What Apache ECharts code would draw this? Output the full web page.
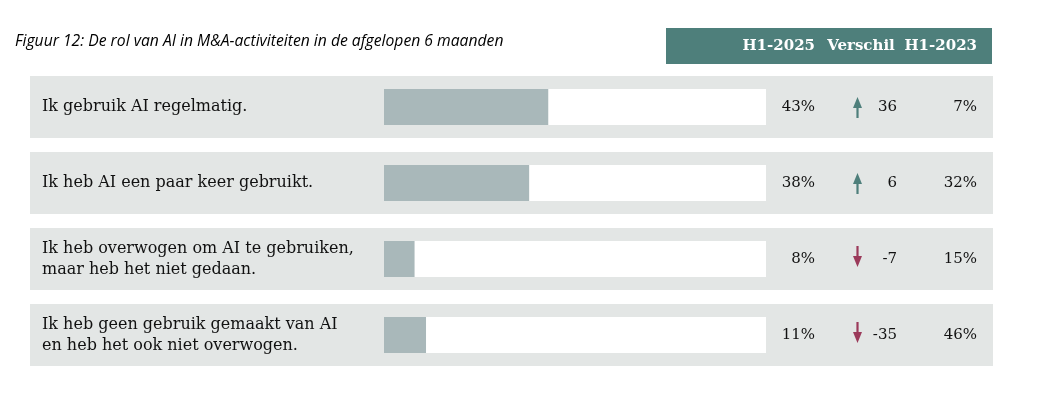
<!DOCTYPE html>
<html>
<head>
<meta charset="utf-8">
<script src="https://cdn.jsdelivr.net/npm/echarts@6/dist/echarts.min.js"></script>
<style>
html,body{margin:0;padding:0;background:#fff;}
#c{width:1046px;height:420px;}
</style>
</head>
<body>
<div id="c"></div>
<script>
var categories = [
  'Ik gebruik AI regelmatig.',
  'Ik heb AI een paar keer gebruikt.',
  'Ik heb overwogen om AI te gebruiken,\nmaar heb het niet gedaan.',
  'Ik heb geen gebruik gemaakt van AI\nen heb het ook niet overwogen.'
];
var h1_2025 = [43, 38, 8, 11];
var verschil = [36, 6, -7, -35];
var h1_2023 = [7, 32, 15, 46];
var headers = ['H1-2025', 'Verschil', 'H1-2023'];
var titleText = 'Figuur 12: De rol van AI in M&A-activiteiten in de afgelopen 6 maanden';

var SERIF = '"DejaVu Serif", serif';
var TEAL = '#4e7f7b';
var RED = '#9b3a5a';

var chart = echarts.init(document.getElementById('c'));

var rowData = categories.map(function (c, i) { return [0, i]; });
var textData = categories.map(function (c, i) { return [h1_2025[i], i, verschil[i], h1_2023[i]]; });

chart.setOption({
  animation: false,
  title: {
    text: titleText,
    left: 10, top: 29,
    textStyle: { fontFamily: '"Open Sans", sans-serif', fontStyle: 'italic', fontWeight: 'normal', fontSize: 15.7, color: '#000' }
  },
  graphic: [
    { type: 'rect', shape: { x: 666, y: 28, width: 326, height: 36 }, style: { fill: TEAL }, z: 10 },
    { type: 'text', x: 815, y: 46, style: { text: headers[0], fill: '#fff', font: 'bold 15px ' + SERIF, textAlign: 'right', textVerticalAlign: 'middle' }, z: 11 },
    { type: 'text', x: 861, y: 46, style: { text: headers[1], fill: '#fff', font: 'bold 15px ' + SERIF, textAlign: 'center', textVerticalAlign: 'middle' }, z: 11 },
    { type: 'text', x: 977, y: 46, style: { text: headers[2], fill: '#fff', font: 'bold 15px ' + SERIF, textAlign: 'right', textVerticalAlign: 'middle' }, z: 11 }
  ],
  grid: { left: 384, width: 382, top: 69, height: 304 },
  xAxis: { type: 'value', min: 0, max: 100, show: false, splitLine: { show: false } },
  yAxis: { type: 'category', data: categories, inverse: true, show: false },
  series: [
    {
      type: 'custom',
      z: 0,
      data: rowData,
      renderItem: function (params, api) {
        var p = api.coord([0, api.value(1)]);
        return { type: 'rect', shape: { x: 30, y: p[1] - 31, width: 963, height: 62 }, style: { fill: '#e3e6e5' } };
      },
      silent: true
    },
    {
      type: 'bar',
      z: 2,
      data: h1_2025,
      barWidth: 36,
      showBackground: true,
      backgroundStyle: { color: '#ffffff' },
      itemStyle: { color: '#a9b8ba' },
      silent: true
    },
    {
      type: 'custom',
      z: 3,
      data: textData,
      renderItem: function (params, api) {
        var i = api.value(1);
        var p = api.coord([0, i]);
        var y = p[1];
        var d = api.value(2);
        var up = d >= 0;
        var col = up ? TEAL : RED;
        var ax = 857.5;
        var arrow;
        if (up) {
          arrow = [
            { type: 'polygon', shape: { points: [[ax, y - 10], [ax - 4.5, y + 1], [ax + 4.5, y + 1]] }, style: { fill: col } },
            { type: 'rect', shape: { x: ax - 1.1, y: y, width: 2.2, height: 11 }, style: { fill: col } }
          ];
        } else {
          arrow = [
            { type: 'polygon', shape: { points: [[ax, y + 8], [ax - 4.5, y - 3], [ax + 4.5, y - 3]] }, style: { fill: col } },
            { type: 'rect', shape: { x: ax - 1.1, y: y - 13, width: 2.2, height: 11 }, style: { fill: col } }
          ];
        }
        var f = '16px ' + SERIF;
        var fv = '15px ' + SERIF;
        return {
          type: 'group',
          children: [
            { type: 'text', x: 42, y: y, style: { text: categories[i], fill: '#111', font: f, lineHeight: 21, textAlign: 'left', textVerticalAlign: 'middle' } },
            { type: 'text', x: 815, y: y, style: { text: api.value(0) + '%', fill: '#111', font: fv, textAlign: 'right', textVerticalAlign: 'middle' } },
            { type: 'text', x: 897, y: y, style: { text: String(d), fill: '#111', font: fv, textAlign: 'right', textVerticalAlign: 'middle' } },
            { type: 'text', x: 977, y: y, style: { text: api.value(3) + '%', fill: '#111', font: fv, textAlign: 'right', textVerticalAlign: 'middle' } }
          ].concat(arrow)
        };
      },
      silent: true
    }
  ]
});
</script>
</body>
</html>
